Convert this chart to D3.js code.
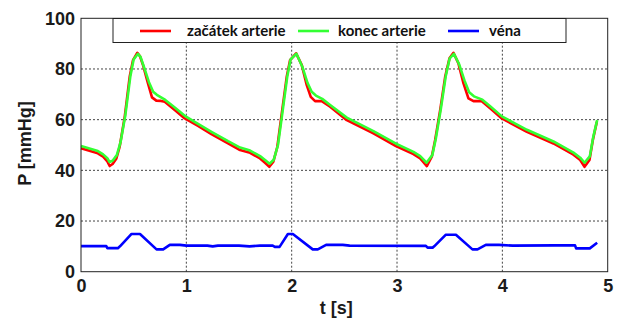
<!DOCTYPE html>
<html>
<head>
<meta charset="utf-8">
<script src="https://cdn.jsdelivr.net/npm/d3@7/dist/d3.min.js"></script>
<style>
  html, body { margin: 0; padding: 0; background: #fff; }
  svg { display: block; }
  .tick text { font-family: "Liberation Sans", Arial, sans-serif; font-weight: bold; font-size: 18px; fill: #1a1a1a; }
  .axis-title { font-family: "Liberation Sans", Arial, sans-serif; font-weight: bold; font-size: 18px; fill: #1a1a1a; }
  .legend text { font-family: Lato, "Liberation Sans", sans-serif; font-weight: bold; font-size: 15px; fill: #111; }
</style>
</head>
<body>
<div id="chart"></div>
<script>
// data
const xTicks = [0, 1, 2, 3, 4, 5];
const yTicks = [0, 20, 40, 60, 80, 100];
const seriesNames = ['začátek arterie', 'konec arterie', 'véna'];
const seriesColors = ['#ff0000', '#33ff33', '#0000ff'];

// začátek arterie (red)
const startT = [0, 0.16, 0.21, 0.25, 0.272, 0.30, 0.336, 0.367, 0.415, 0.462, 0.494, 0.535, 0.56, 0.589, 0.636, 0.674, 0.715, 0.76, 0.795, 0.89, 0.985, 1.111, 1.238, 1.396, 1.51, 1.605, 1.70, 1.747, 1.788, 1.826, 1.864, 1.906, 1.953, 1.985, 2.042, 2.096, 2.143, 2.181, 2.222, 2.286, 2.365, 2.523, 2.776, 2.99, 3.156, 3.22, 3.283, 3.33, 3.362, 3.41, 3.457, 3.498, 3.536, 3.583, 3.631, 3.678, 3.726, 3.805, 3.884, 3.995, 4.233, 4.485, 4.675, 4.739, 4.78, 4.827, 4.859, 4.897];
const startP = [48.7, 46.7, 45.4, 43.5, 41.7, 42.5, 44.7, 49.3, 61.1, 76.9, 83.5, 86.4, 85.0, 81.5, 74.3, 68.8, 67.5, 67.4, 67.1, 63.8, 60.5, 57.5, 54.3, 50.6, 48.0, 46.9, 44.7, 43.0, 41.4, 43.4, 49.3, 62.5, 76.9, 83.5, 86.2, 81.5, 73.6, 69.0, 67.3, 67.3, 65.1, 59.8, 54.6, 49.6, 46.4, 44.7, 41.7, 45.4, 52.0, 63.8, 76.9, 84.2, 86.4, 82.2, 74.3, 68.4, 67.3, 67.3, 64.5, 60.5, 55.2, 50.6, 46.2, 44.1, 41.4, 44.1, 52.0, 59.2];

// konec arterie (green)
const endT = [0, 0.16, 0.21, 0.25, 0.27, 0.30, 0.34, 0.375, 0.42, 0.468, 0.50, 0.54, 0.565, 0.60, 0.645, 0.685, 0.72, 0.76, 0.80, 0.89, 0.985, 1.111, 1.238, 1.396, 1.51, 1.605, 1.70, 1.75, 1.79, 1.83, 1.87, 1.912, 1.958, 1.99, 2.045, 2.10, 2.15, 2.19, 2.23, 2.29, 2.365, 2.523, 2.776, 2.99, 3.156, 3.22, 3.28, 3.335, 3.368, 3.415, 3.462, 3.50, 3.54, 3.59, 3.64, 3.685, 3.73, 3.81, 3.884, 3.995, 4.233, 4.485, 4.675, 4.739, 4.78, 4.83, 4.862, 4.90];
const endP = [49.6, 47.6, 46.3, 44.8, 43.3, 43.8, 46.0, 51.0, 61.5, 77.0, 83.8, 86.0, 84.8, 80.5, 74.8, 71.0, 69.8, 68.8, 67.8, 64.8, 61.5, 58.3, 55.2, 51.5, 49.0, 47.8, 45.6, 44.0, 42.6, 44.2, 50.0, 62.8, 77.0, 83.8, 86.0, 81.0, 74.5, 71.0, 69.5, 68.2, 65.8, 60.8, 55.5, 50.5, 47.3, 45.6, 43.0, 46.0, 52.5, 64.0, 77.0, 84.2, 86.0, 81.8, 75.5, 70.8, 69.2, 67.9, 65.3, 61.3, 56.0, 51.4, 47.0, 45.0, 43.0, 45.5, 53.0, 59.8];

// véna (blue)
const venaT = [0, 0.24, 0.25, 0.35, 0.37, 0.48, 0.56, 0.717, 0.78, 0.843, 0.94, 1.0, 1.2, 1.25, 1.3, 1.5, 1.6, 1.7, 1.82, 1.84, 1.885, 1.964, 2.011, 2.2, 2.248, 2.327, 2.485, 2.55, 3.274, 3.29, 3.338, 3.353, 3.464, 3.559, 3.716, 3.764, 3.843, 3.969, 4.1, 4.5, 4.69, 4.70, 4.83, 4.9];
const venaP = [10.1, 10.1, 9.3, 9.3, 10.0, 14.9, 14.9, 8.8, 8.8, 10.6, 10.6, 10.3, 10.3, 10.0, 10.3, 10.3, 10.0, 10.3, 10.3, 9.8, 9.8, 14.9, 14.9, 8.8, 8.8, 10.6, 10.6, 10.3, 10.2, 9.5, 9.5, 10.0, 14.6, 14.6, 8.8, 8.8, 10.6, 10.6, 10.3, 10.4, 10.4, 9.2, 9.2, 11.4];

const series = [
  { t: startT, p: startP },
  { t: endT, p: endP },
  { t: venaT, p: venaP }
];

const width = 620, height = 320;
const margin = { top: 18.3, right: 12.3, bottom: 48.3, left: 81 };

const svg = d3.select('#chart').append('svg')
  .attr('width', width)
  .attr('height', height);

const x = d3.scaleLinear().domain([0, 5]).range([margin.left, width - margin.right]);
const y = d3.scaleLinear().domain([0, 100]).range([height - margin.bottom, margin.top]);

// grid
svg.append('g')
  .selectAll('line')
  .data(xTicks.slice(1, -1))
  .join('line')
  .attr('x1', d => x(d)).attr('x2', d => x(d))
  .attr('y1', y(0)).attr('y2', y(100))
  .attr('stroke', '#444').attr('stroke-width', 1).attr('stroke-dasharray', '2,2');

svg.append('g')
  .selectAll('line')
  .data(yTicks.slice(1, -1))
  .join('line')
  .attr('x1', x(0)).attr('x2', x(5))
  .attr('y1', d => y(d)).attr('y2', d => y(d))
  .attr('stroke', '#444').attr('stroke-width', 1).attr('stroke-dasharray', '2,2');

// axes
svg.append('g')
  .attr('transform', 'translate(0,' + y(0) + ')')
  .call(d3.axisBottom(x).tickValues(xTicks).tickSize(0).tickPadding(8).tickFormat(d3.format('d')))
  .call(g => g.select('.domain').remove());

svg.append('g')
  .attr('transform', 'translate(' + x(0) + ',0)')
  .call(d3.axisLeft(y).tickValues(yTicks).tickSize(0).tickPadding(6).tickFormat(d3.format('d')))
  .call(g => g.select('.domain').remove());

// lines
const line = d3.line()
  .x(d => x(d[0]))
  .y(d => y(d[1]));

series.forEach((s, k) => {
  svg.append('path')
    .datum(s.t.map((t, i) => [t, s.p[i]]))
    .attr('fill', 'none')
    .attr('stroke', seriesColors[k])
    .attr('stroke-width', 2.6)
    .attr('stroke-linejoin', 'round')
    .attr('d', line);
});

// frame
svg.append('rect')
  .attr('x', x(0)).attr('y', y(100))
  .attr('width', x(5) - x(0)).attr('height', y(0) - y(100))
  .attr('fill', 'none').attr('stroke', '#222').attr('stroke-width', 1);

// axis titles
svg.append('text')
  .attr('class', 'axis-title')
  .attr('x', (x(0) + x(5)) / 2 - 8)
  .attr('y', 314)
  .attr('text-anchor', 'middle')
  .text('t [s]');

svg.append('text')
  .attr('class', 'axis-title')
  .attr('transform', 'translate(31,' + 143.5 + ') rotate(-90)')
  .attr('text-anchor', 'middle')
  .text('P [mmHg]');

// legend
const legend = svg.append('g').attr('class', 'legend');
legend.append('rect')
  .attr('x', 113).attr('y', 18.5)
  .attr('width', 453).attr('height', 24)
  .attr('fill', '#fff').attr('stroke', '#222').attr('stroke-width', 1);

const legendX = [140, 298, 448];
const textX = [187, 338, 489];
seriesNames.forEach((name, k) => {
  legend.append('line')
    .attr('x1', legendX[k]).attr('x2', legendX[k] + 31)
    .attr('y1', 31).attr('y2', 31)
    .attr('stroke', seriesColors[k]).attr('stroke-width', 2.6);
  legend.append('text')
    .attr('x', textX[k]).attr('y', 36)
    .text(name);
});
</script>
</body>
</html>
